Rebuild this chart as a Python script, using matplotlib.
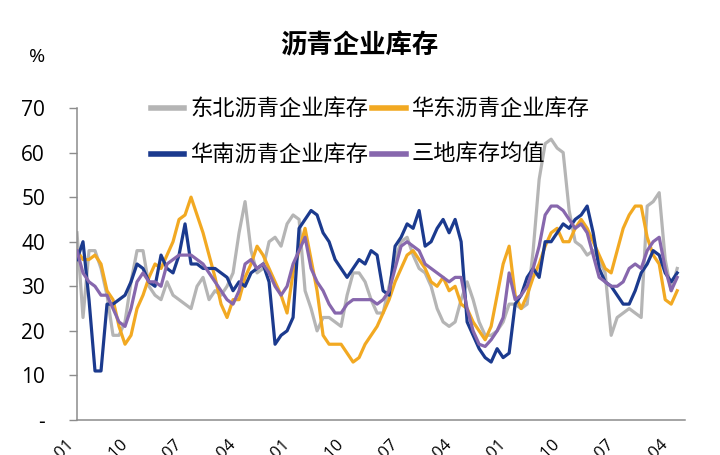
import numpy as np
import matplotlib
matplotlib.use('Agg')
import matplotlib.pyplot as plt

plt.rcParams['font.family'] = ['Noto Sans CJK SC', 'DejaVu Sans']

# ── data (one point every ~6 px) ────────────────────────────────────────────
SERIES_NAMES = ['东北沥青企业库存', '华东沥青企业库存', '华南沥青企业库存', '三地库存均值']
COLORS       = ['#B5B5B5', '#F2A922', '#1B3A8E', '#8767AD']

northeast = [42, 23, 38, 38, 34, 28, 19, 19, 22, 31,
             38, 38, 30, 28, 27, 31, 28, 27, 26, 25,
             30, 32, 27, 29, 28, 30, 33, 42, 49, 38,
             33, 34, 40, 41, 39, 44, 46, 45, 29, 25,
             20, 23, 23, 22, 21, 28, 33, 33, 31, 27,
             24, 24, 30, 36, 40, 41, 37, 34, 33, 30,
             25, 22, 21, 22, 27, 31, 27, 22, 19, 19,
             20, 22, 26, 26, 25, 26, 38, 54, 62, 63,
             61, 60, 47, 40, 39, 37, 38, 36, 33, 19,
             23, 24, 25, 24, 23, 48, 49, 51, 36, 29,
             34]
east = [38, 36, 36, 37, 35, 29, 27, 21, 17, 19,
        25, 28, 32, 35, 34, 37, 40, 45, 46, 50,
        46, 42, 37, 32, 26, 23, 27, 27, 32, 35,
        39, 37, 34, 31, 28, 24, 33, 38, 43, 36,
        29, 19, 17, 17, 17, 15, 13, 14, 17, 19,
        21, 24, 27, 31, 34, 37, 38, 36, 34, 31,
        30, 32, 29, 30, 26, 25, 22, 20, 18, 21,
        28, 35, 39, 28, 25, 28, 32, 35, 39, 42,
        43, 40, 40, 43, 45, 43, 40, 37, 34, 33,
        38, 43, 46, 48, 48, 41, 37, 35, 27, 26,
        29]
south = [36, 40, 27, 11, 11, 26, 26, 27, 28, 31,
         35, 34, 31, 30, 37, 34, 33, 37, 44, 35,
         35, 34, 34, 34, 33, 32, 29, 31, 30, 33,
         34, 35, 31, 17, 19, 20, 23, 43, 45, 47,
         46, 42, 40, 36, 34, 32, 34, 36, 35, 38,
         37, 29, 28, 39, 41, 44, 43, 47, 39, 40,
         43, 45, 42, 45, 40, 22, 19, 16, 14, 13,
         16, 14, 15, 26, 28, 32, 34, 32, 40, 40,
         42, 44, 43, 45, 46, 48, 42, 34, 31, 30,
         28, 26, 26, 29, 33, 35, 38, 37, 33, 31,
         33]
average = [38, 33, 31, 30, 28, 28, 25, 22, 21, 25,
           31, 33, 31, 31, 30, 35, 36, 37, 37, 37,
           36, 35, 33, 31, 29, 27, 26, 29, 35, 36,
           34, 35, 33, 30, 28, 30, 35, 38, 41, 34,
           31, 29, 26, 24, 24, 26, 27, 27, 27, 27,
           26, 27, 29, 34, 39, 40, 39, 38, 35, 34,
           33, 32, 31, 32, 32, 25, 20, 17, 16.5, 18,
           20, 23, 33, 27, 28, 30, 34, 39, 46, 48,
           48, 47, 45, 43, 44, 42, 37, 32, 31, 30,
           30, 31, 34, 35, 34, 38, 40, 41, 34, 29,
           32]

X_TICK_POS    = [0, 9, 18, 27, 36, 45, 54, 63, 72, 81, 90, 99]
X_TICK_LABELS = ['2010-01', '2010-10', '2011-07', '2012-04', '2013-01', '2013-10',
                 '2014-07', '2015-04', '2016-01', '2016-10', '2017-07', '2018-04']
Y_TICKS       = [0, 10, 20, 30, 40, 50, 60, 70]
Y_TICK_LABELS = ['-', '10', '20', '30', '40', '50', '60', '70']

# ── figure ───────────────────────────────────────────────────────────────────
fig = plt.figure(figsize=(7.2, 4.55), dpi=100)
ax = fig.add_axes([77/720, 1 - 420/455, 608/720, 312/455])

x = np.arange(len(northeast))
lines = []
for i, (vals, col) in enumerate(zip([northeast, east, south, average], COLORS)):
    ln, = ax.plot(x, vals, color=col, lw=2.3, zorder=2 + i,
                  solid_joinstyle='round')
    lines.append(ln)

ax.set_xlim(0, 101.3)
ax.set_ylim(0, 70)
ax.set_yticks(Y_TICKS)
ax.set_yticklabels(Y_TICK_LABELS, fontfamily='Open Sans', fontsize=15)
ax.set_xticks(X_TICK_POS)
ax.set_xticklabels(X_TICK_LABELS, rotation=45, ha='right',
                   fontfamily='Open Sans', fontsize=12)
ax.tick_params(axis='y', length=6, width=1, color='#8C8C8C', pad=17)
ax.tick_params(axis='x', length=0, pad=12)
ax.spines[['top', 'right']].set_visible(False)
for s in ['left', 'bottom']:
    ax.spines[s].set_color('#8C8C8C')
    ax.spines[s].set_linewidth(1.1)

fig.text(359/720, 1 - 46/455, '沥青企业库存', fontsize=19, fontweight='bold',
         ha='center', va='center')
fig.text(37/720, 1 - 57/455, '%', fontsize=14, fontfamily='Open Sans',
         ha='center', va='center')

# legend fills column-wise, so order the handles to get the reference rows
order = [0, 2, 1, 3]
leg = fig.legend([lines[k] for k in order], [SERIES_NAMES[k] for k in order],
                 ncol=2, frameon=False,
                 loc='upper left', bbox_to_anchor=(140/720, 1 - 87/455),
                 fontsize=16, handlelength=1.5, handletextpad=0.25,
                 columnspacing=0.2, labelspacing=1.0, borderpad=0)
for h in leg.legend_handles:
    h.set_linewidth(4)

plt.savefig('out.png', dpi=100)
plt.close()
